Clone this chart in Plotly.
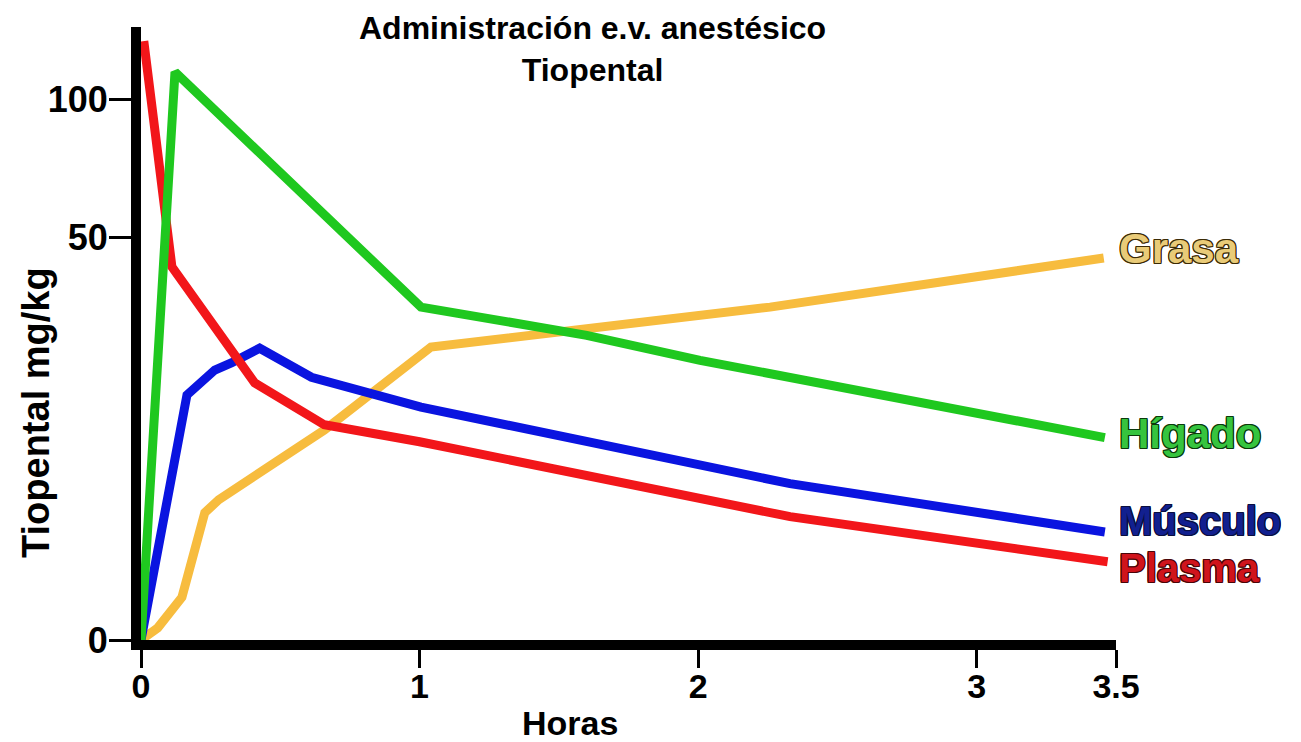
import numpy as np
import plotly.graph_objects as go

# ---- data ----
hours_plasma = [0.01, 0.111, 0.408, 0.658, 1.0, 2.0, 2.33, 3.47]
plasma = [121.0, 46.3, 31.9, 26.7, 24.6, 17.6, 15.3, 9.7]

hours_higado = [0.0, 0.122, 1.005, 1.6, 2.007, 3.46]
higado = [0.0, 109.8, 41.3, 37.8, 34.7, 25.1]

hours_musculo = [0.0, 0.165, 0.265, 0.326, 0.426, 0.612, 1.005, 2.33, 3.46]
musculo = [0.0, 30.4, 33.5, 34.4, 36.2, 32.6, 28.9, 19.4, 13.4]

hours_grasa = [0.0, 0.06, 0.147, 0.229, 0.279, 0.658, 1.041, 2.258, 3.456]
grasa = [0.0, 1.5, 5.3, 15.8, 17.4, 26.05, 36.35, 41.3, 47.4]

x_ticks = [0, 1, 2, 3, 3.5]
x_tick_labels = ["0", "1", "2", "3", "3.5"]
y_ticks = [0, 50, 100]
y_tick_labels = ["0", "50", "100"]

series_names = ["Grasa", "Hígado", "Músculo", "Plasma"]

# printed y axis is not linear: 0-50 takes much more room than 50-100
Y_BREAKS = [0, 50, 100, 150]
Y_AXIS_POS = [0, 403, 541, 679]


def yscale(v):
    return np.interp(np.asarray(v, dtype=float), Y_BREAKS, Y_AXIS_POS)


FONT = "Liberation Sans"

colors = {
    "Grasa": "#F7BC3E",
    "Hígado": "#1FC81F",
    "Músculo": "#0A14E0",
    "Plasma": "#F2161A",
}
label_colors = {
    "Grasa": ("#E9CB78", "#3A2A05"),
    "Hígado": ("#36C43E", "#0B3A0B"),
    "Músculo": ("#12208F", "#0A0F40"),
    "Plasma": ("#D0141C", "#4A0508"),
}
label_shift = {"Grasa": 9, "Hígado": 4, "Músculo": 11, "Plasma": -6}
label_size = {"Grasa": 42, "Hígado": 42, "Músculo": 40, "Plasma": 40}

data = {
    "Grasa": (hours_grasa, grasa),
    "Hígado": (hours_higado, higado),
    "Músculo": (hours_musculo, musculo),
    "Plasma": (hours_plasma, plasma),
}

fig = go.Figure()
for name in ["Grasa", "Músculo", "Plasma", "Hígado"]:
    xs, ys = data[name]
    fig.add_trace(go.Scatter(
        x=xs, y=yscale(ys), mode="lines", name=name,
        line=dict(color=colors[name], width=9),
        showlegend=False, hoverinfo="skip",
    ))

annotations = []
for name in series_names:
    xs, ys = data[name]
    fill, edge = label_colors[name]
    sh = ", ".join(f"{dx}px {dy}px 0 {edge}" for dx in (-1, 0, 1) for dy in (-1, 0, 1) if dx or dy)
    annotations.append(dict(
        x=3.5, y=float(yscale(ys[-1])), xref="x", yref="y",
        text=name, showarrow=False, xanchor="left", yanchor="middle",
        xshift=2, yshift=label_shift[name], borderpad=0,
        font=dict(family=FONT, size=label_size[name], color=fill, weight="bold", shadow=sh),
    ))

annotations.append(dict(
    x=592, y=742 - 8, xref="paper", yref="paper",
    text="Administración e.v. anestésico<br>Tiopental", showarrow=False,
    xanchor="center", yanchor="top",
    font=dict(family=FONT, size=32, color="black", weight="bold"),
))
annotations.append(dict(
    x=570, y=742 - 723, xref="paper", yref="paper", text="Horas",
    showarrow=False, xanchor="center", yanchor="middle",
    font=dict(family=FONT, size=34, color="black", weight="bold"),
))
annotations.append(dict(
    x=36, y=742 - 413, xref="paper", yref="paper", text="Tiopental mg/kg",
    showarrow=False, xanchor="center", yanchor="middle", textangle=-90,
    font=dict(family=FONT, size=38, color="black", weight="bold"),
))

# convert pixel-placed annotations (paper) to fractions
W, H = 1301, 742
L, R, T, B = 141, 185, 27, 102
for a in annotations:
    if a.get("xref") == "paper":
        a["x"] = (a["x"] - L) / (W - L - R)
        a["y"] = (a["y"] - B) / (H - T - B)

fig.update_layout(
    width=W, height=H,
    margin=dict(l=L, r=R, t=T, b=B),
    paper_bgcolor="white", plot_bgcolor="white",
    annotations=annotations,
    font=dict(family=FONT, color="black"),
)
fig.update_xaxes(
    range=[0, 3.5], showgrid=False, zeroline=False,
    showline=True, linewidth=10, linecolor="black",
    ticks="outside", ticklen=18, tickwidth=3, tickcolor="black",
    tickvals=x_ticks, ticktext=x_tick_labels, ticklabelstandoff=-11,
    tickfont=dict(family=FONT, size=34, color="black", weight="bold"),
    fixedrange=True,
)
fig.update_yaxes(
    range=[0, 613], showgrid=False, zeroline=False,
    showline=True, linewidth=10, linecolor="black",
    ticks="outside", ticklen=22, tickwidth=3, tickcolor="black",
    tickvals=list(yscale(y_ticks)), ticktext=y_tick_labels, ticklabelstandoff=-6,
    tickfont=dict(family=FONT, size=36, color="black", weight="bold"),
    fixedrange=True,
)

fig.write_html(
    "out.html",
    config={"displayModeBar": False},
    post_script="document.body.style.margin='0';document.body.style.overflow='hidden';",
)
